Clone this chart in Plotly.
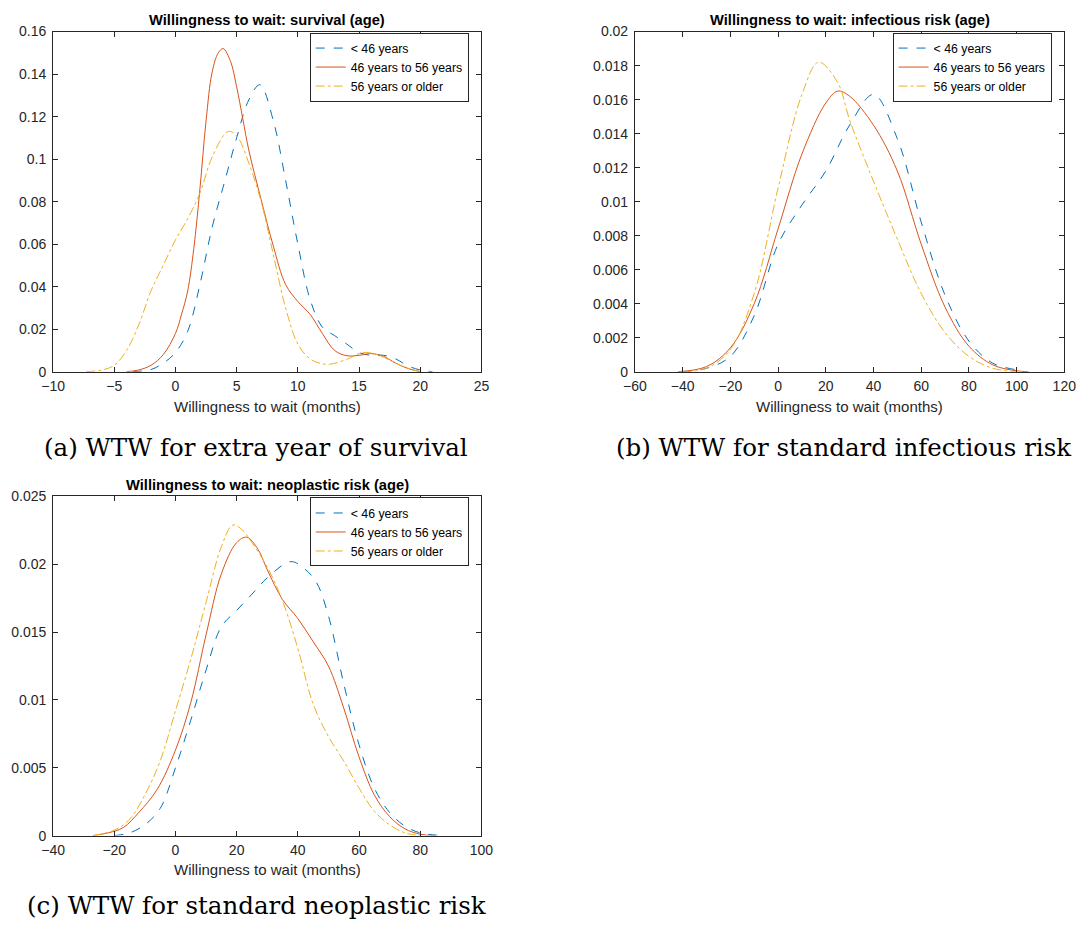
import plotly.graph_objects as go

# ---------------- data ----------------
series_names = ["< 46 years", "46 years to 56 years", "56 years or older"]

# (a) survival
a_blue_x = [-3.5, -2, -1, 0, 1, 2, 3, 4, 5, 6, 6.9, 8, 9, 10, 11, 12, 13, 14, 15, 16, 17, 18, 19, 20, 21]
a_blue_y = [0, 0.001, 0.004, 0.009, 0.019, 0.041, 0.068, 0.089, 0.110, 0.128, 0.135, 0.118, 0.090, 0.060, 0.034, 0.021, 0.017, 0.013, 0.009, 0.0077, 0.0077, 0.006, 0.0027, 0.0008, 0]
a_red_x = [-4, -3, -2, -1, 0, 0.5, 1, 1.5, 2, 2.5, 3, 3.5, 3.9, 4.5, 5, 5.5, 6, 7, 8, 9, 10, 11, 12, 13, 14, 15, 16, 17, 18, 19, 20]
a_red_y = [0, 0.0008, 0.003, 0.008, 0.018, 0.027, 0.038, 0.058, 0.086, 0.118, 0.141, 0.150, 0.152, 0.146, 0.134, 0.119, 0.104, 0.081, 0.059, 0.041, 0.033, 0.027, 0.018, 0.01, 0.0075, 0.0077, 0.0085, 0.0072, 0.004, 0.0015, 0]
a_yel_x = [-7.3, -6, -5, -4, -3, -2, -1, 0, 1, 2, 3, 4.3, 5, 6, 7, 8, 9, 10, 11, 12, 12.6, 14, 15.3, 16.5, 18, 19, 20]
a_yel_y = [0, 0.0008, 0.003, 0.01, 0.022, 0.038, 0.05, 0.062, 0.072, 0.084, 0.101, 0.113, 0.111, 0.098, 0.08, 0.055, 0.03, 0.013, 0.006, 0.0037, 0.0035, 0.0058, 0.009, 0.008, 0.004, 0.0015, 0]

# (b) infectious risk
b_blue_x = [-40, -30, -20, -10, 0, 10, 20, 30, 40, 50, 60, 70, 80, 90, 100, 103]
b_blue_y = [0, 0.0002, 0.0009, 0.0033, 0.0075, 0.0098, 0.0118, 0.0145, 0.0163, 0.0137, 0.0088, 0.0045, 0.0018, 0.0005, 0.0001, 0]
b_red_x = [-42, -30, -20, -10, 0, 10, 20, 25, 30, 40, 50, 60, 70, 80, 90, 100, 105]
b_red_y = [0, 0.0003, 0.0014, 0.004, 0.0084, 0.0128, 0.0158, 0.0165, 0.0162, 0.0145, 0.0118, 0.0075, 0.0038, 0.0015, 0.0004, 0.00005, 0]
b_yel_x = [-40, -30, -20, -10, 0, 10, 17, 25, 30, 40, 50, 60, 70, 80, 90, 100]
b_yel_y = [0, 0.0002, 0.0013, 0.0046, 0.0108, 0.0163, 0.0182, 0.017, 0.0148, 0.0112, 0.0078, 0.0046, 0.0023, 0.0009, 0.0002, 0]

# (c) neoplastic risk
c_blue_x = [-20, -15, -10, -5, 0, 5, 10, 15, 20, 25, 30, 37.7, 42, 46, 50, 55, 60, 65, 70, 75, 80, 88]
c_blue_y = [0, 0.0002, 0.0008, 0.002, 0.005, 0.0085, 0.0122, 0.0154, 0.0166, 0.0178, 0.019, 0.0202, 0.0197, 0.0187, 0.0162, 0.0112, 0.0067, 0.0035, 0.0017, 0.0007, 0.0002, 0]
c_red_x = [-27, -22, -17, -12, -6, 0, 5, 10, 15, 20, 23.3, 27, 30, 35, 40, 45, 50, 55, 60, 65, 70, 75, 80, 85]
c_red_y = [0, 0.0002, 0.0006, 0.0017, 0.0034, 0.0063, 0.0098, 0.0148, 0.0193, 0.0216, 0.022, 0.0211, 0.0196, 0.0174, 0.016, 0.0143, 0.0125, 0.0094, 0.0058, 0.003, 0.0014, 0.0005, 0.0001, 0]
c_yel_x = [-27, -20, -15, -10, -5, 0, 5, 10, 15, 18.8, 22, 25, 30, 35, 40, 45, 50, 55, 60, 65, 70, 75, 80]
c_yel_y = [0, 0.0004, 0.0012, 0.003, 0.0055, 0.0092, 0.013, 0.0172, 0.0213, 0.0229, 0.0225, 0.0216, 0.0198, 0.0173, 0.0138, 0.0097, 0.0073, 0.0055, 0.0035, 0.0018, 0.0008, 0.0002, 0]

# tick labels
a_xticks = [-10, -5, 0, 5, 10, 15, 20, 25]
a_yticks = [0, 0.02, 0.04, 0.06, 0.08, 0.1, 0.12, 0.14, 0.16]
a_yticktext = ["0", "0.02", "0.04", "0.06", "0.08", "0.1", "0.12", "0.14", "0.16"]
b_xticks = [-60, -40, -20, 0, 20, 40, 60, 80, 100, 120]
b_yticks = [0, 0.002, 0.004, 0.006, 0.008, 0.01, 0.012, 0.014, 0.016, 0.018, 0.02]
b_yticktext = ["0", "0.002", "0.004", "0.006", "0.008", "0.01", "0.012", "0.014", "0.016", "0.018", "0.02"]
c_xticks = [-40, -20, 0, 20, 40, 60, 80, 100]
c_yticks = [0, 0.005, 0.01, 0.015, 0.02, 0.025]
c_yticktext = ["0", "0.005", "0.01", "0.015", "0.02", "0.025"]

titles = ["Willingness to wait: survival (age)",
          "Willingness to wait: infectious risk (age)",
          "Willingness to wait: neoplastic risk (age)"]
xlabel = "Willingness to wait (months)"
captions = ["(a) WTW for extra year of survival",
            "(b) WTW for standard infectious risk",
            "(c) WTW for standard neoplastic risk"]

# ---------------- figure ----------------
W, H = 1089, 935
colors = ["#0072BD", "#D95319", "#EDB120"]
dashes = ["dash", "solid", "dashdot"]
SANS = "Liberation Sans, Arial, Helvetica"

# pixel boxes of the plot areas: (left, right, top, bottom)
boxes = [(42, 480, 24, 370), (637, 1076, 24, 370), (42, 480, 497, 842)]

fig = go.Figure()

panels = [
    ([(a_blue_x, a_blue_y), (a_red_x, a_red_y), (a_yel_x, a_yel_y)], a_xticks, [-10, 25], a_yticks, a_yticktext, [0, 0.16]),
    ([(b_blue_x, b_blue_y), (b_red_x, b_red_y), (b_yel_x, b_yel_y)], b_xticks, [-60, 120], b_yticks, b_yticktext, [0, 0.02]),
    ([(c_blue_x, c_blue_y), (c_red_x, c_red_y), (c_yel_x, c_yel_y)], c_xticks, [-40, 100], c_yticks, c_yticktext, [0, 0.025]),
]

axis_common = dict(showgrid=False, zeroline=False, showline=True, linecolor="#262626",
                   linewidth=1, mirror="ticks", ticks="inside", ticklen=5, tickwidth=1,
                   tickcolor="#262626", tickfont=dict(family=SANS, size=14, color="#262626"))

annotations = []
for i, (curves, xt, xr, yt, ytt, yr) in enumerate(panels):
    n = "" if i == 0 else str(i + 1)
    l, r, t, b = boxes[i]
    for j, (xs, ys) in enumerate(curves):
        fig.add_trace(go.Scatter(
            x=xs, y=ys, mode="lines", name=series_names[j],
            line=dict(color=colors[j], dash=dashes[j], width=1, shape="spline", smoothing=1.0),
            xaxis="x" + n, yaxis="y" + n, legend="legend" + n, showlegend=True))
    fig.update_layout(**{
        "xaxis" + n: dict(axis_common, domain=[l / W, r / W], range=xr, tickvals=xt,
                          anchor="y" + n, ticklabelstandoff=2),
        "yaxis" + n: dict(axis_common, domain=[1 - b / H, 1 - t / H], range=yr, tickvals=yt,
                          ticktext=ytt, anchor="x" + n, ticklabelstandoff=3),
        "legend" + n: dict(x=(r - 13) / W, xanchor="right", y=1 - (t + 1) / H, yanchor="top",
                           bgcolor="white", bordercolor="#262626", borderwidth=1,
                           font=dict(family=SANS, size=12.3, color="#000000"),
                           tracegroupgap=0, itemwidth=30),
    })
    cx = (l + r) / 2 / W
    annotations.append(dict(text="<b>" + titles[i] + "</b>", x=cx, y=1 - (t - 12) / H,
                            xref="paper", yref="paper", showarrow=False, xanchor="center",
                            yanchor="middle", font=dict(family=SANS, size=14.7, color="#000")))
    annotations.append(dict(text=xlabel, x=cx, y=1 - (b + 35) / H, xref="paper", yref="paper",
                            showarrow=False, xanchor="center", yanchor="middle",
                            font=dict(family=SANS, size=15, color="#262626")))

cap_pos = [(250, 447), (851, 447), (251, 913)]
for i, (cx, cy) in enumerate(cap_pos):
    annotations.append(dict(text=captions[i], x=cx / W, y=1 - cy / H, xref="paper", yref="paper",
                            showarrow=False, xanchor="center", yanchor="middle",
                            font=dict(family="DejaVu Serif", size=24.5, color="#000")))

fig.update_layout(width=W, height=H, margin=dict(l=0, r=0, t=0, b=0),
                  paper_bgcolor="white", plot_bgcolor="white", annotations=annotations)

fig.write_html("out.html")
